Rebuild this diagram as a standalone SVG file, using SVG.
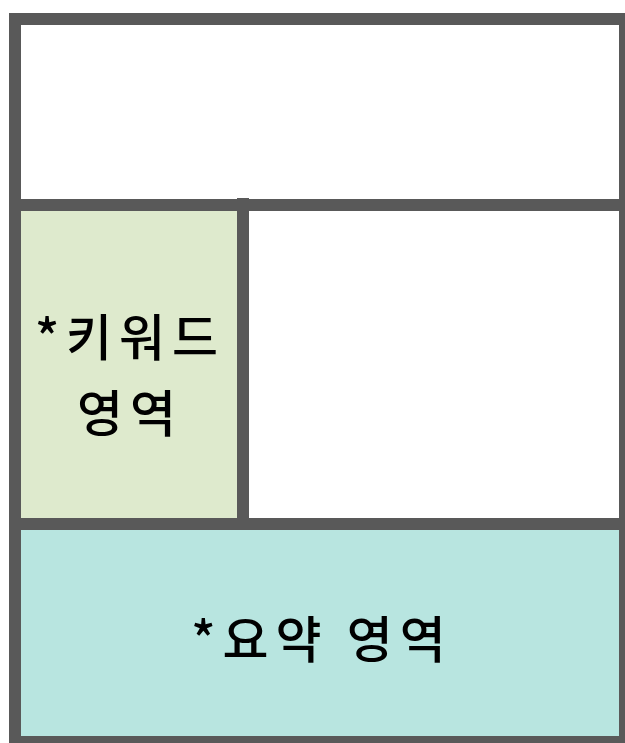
<svg xmlns="http://www.w3.org/2000/svg" width="625" height="743" viewBox="0 0 625 743">
<style>
.wall{fill:#595959}
.lbl{font-family:"Noto Sans CJK KR","Noto Sans",sans-serif;font-size:50px;font-weight:500;letter-spacing:7px;fill:#000;text-anchor:middle;dominant-baseline:central}
</style>
<rect x="0" y="0" width="625" height="743" fill="#ffffff"/>
<g id="top-area"><rect x="21" y="25" width="598" height="174" fill="#ffffff"/></g>
<g id="keyword-area">
<rect x="21" y="211" width="216" height="307" fill="#DEEACD"/>
<text class="lbl" x="130" y="334">*키워드</text>
<text class="lbl" x="130" y="410">영역</text>
</g>
<g id="main-area"><rect x="249" y="211" width="370" height="307" fill="#ffffff"/></g>
<g id="summary-area">
<rect x="21" y="530" width="598" height="206" fill="#B8E5E0"/>
<text class="lbl" x="322" y="636">*요약 영역</text>
</g>
<g id="connectors">
<rect class="wall" x="9" y="13" width="622" height="12"/>
<rect class="wall" x="9" y="13" width="12" height="735"/>
<rect class="wall" x="619" y="13" width="12" height="735"/>
<rect class="wall" x="9" y="736" width="622" height="12"/>
<rect class="wall" x="9" y="199" width="622" height="12"/>
<rect class="wall" x="237" y="198" width="12" height="320"/>
<rect class="wall" x="9" y="518" width="622" height="12"/>
</g>
</svg>
